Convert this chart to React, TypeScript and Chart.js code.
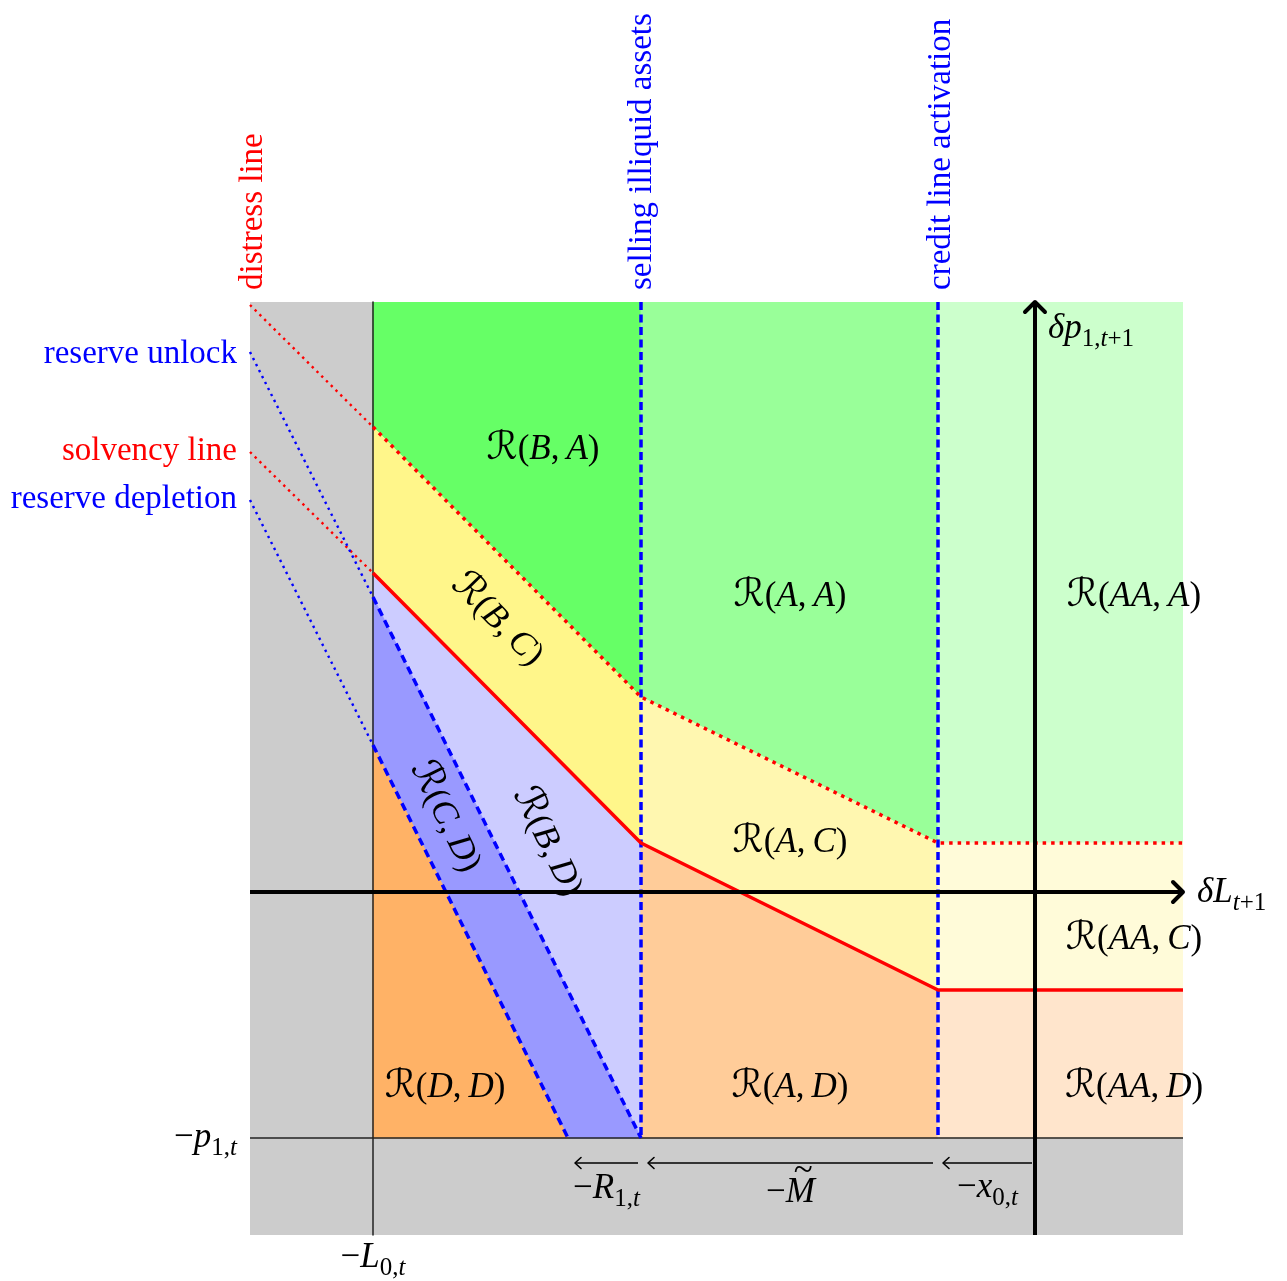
import React, { useEffect, useRef } from "react";
import { Chart, registerables } from "chart.js";

Chart.register(...registerables);

// ---------- data (axis units: δL_{t+1} horizontally, δp_{1,t+1} vertically) ----------
const X_RANGE = [-7.85, 1.48];
const Y_RANGE = [-3.43, 5.9];
// −L0,t | selling illiquid assets | credit line activation | right edge
const boundaryX = [-6.62, -3.94, -0.97, 1.48];
const solvencyY = [3.19, 0.49, -0.98, -0.98];
const distressY = [4.65, 1.95, 0.49, 0.49];
const solvencyLeftY = 4.4; // value at the left border (dotted extension)
const distressLeftY = 5.87;
const unlockX = [-7.85, -6.62, -3.94];
const unlockY = [5.4, 2.95, -2.46];
const depletionX = [-7.85, -6.62, -4.67];
const depletionY = [3.92, 1.47, -2.46];
const floorY = -2.46; // −p1,t
const arrowY = -2.71;
const arrowFrom = [-3.97, -1.02, -0.03];
const arrowTo = [-4.6, -3.87, -0.92];

// region labels
const regionNames: [string, string][] = [
  ["B", "A"], ["A", "A"], ["AA", "A"],
  ["A", "C"], ["AA", "C"],
  ["D", "D"], ["A", "D"], ["AA", "D"],
];
const regionLabelX = [-4.92, -2.45, 0.99, -2.45, 0.99, -5.9, -2.45, 0.99];
const regionLabelY = [4.42, 2.95, 2.95, 0.49, -0.48, -1.96, -1.96, -1.96];
const rotatedNames: [string, string][] = [["B", "C"], ["B", "D"], ["C", "D"]];
const rotatedLabelX = [-5.38, -4.88, -5.9];
const rotatedLabelY = [2.72, 0.5, 0.75];

const COLORS = {
  gray: "#cccccc",
  BA: "#66ff66", AA: "#99ff99", AAA: "#ccffcc",
  BC: "#fff68a", AC: "#fff7b0", AAC: "#fffbd9",
  BD: "#ccccff", CD: "#9999ff", DD: "#ffb266",
  AD: "#ffcc99", AAD: "#ffe5cc",
  red: "#ff0000", blue: "#0000ff", black: "#000000",
};

type Pt = { x: number; y: number };
const P = (x: number, y: number): Pt => ({ x, y });

type Part = { t: string; it?: boolean; sub?: boolean; cal?: boolean; tilde?: boolean; gap?: number };

const FS = 33; // text labels
const MS = 35; // math labels

function fontFor(p: Part, size: number) {
  const s = p.sub ? Math.round(size * 0.7) : size;
  if (p.cal) return `${Math.round(s * 1.12)}px "DejaVu Serif", "DejaVu Sans", serif`;
  return `${p.it ? "italic " : ""}${s}px "Liberation Serif", "DejaVu Serif", serif`;
}

function drawRich(
  ctx: CanvasRenderingContext2D,
  parts: Part[],
  x: number,
  y: number,
  align: "left" | "center" | "right",
  color: string,
  size: number,
  rotate = 0,
  dy = 0
) {
  ctx.save();
  ctx.translate(x, y);
  if (rotate) ctx.rotate(rotate);
  ctx.textBaseline = "alphabetic";
  ctx.textAlign = "left";
  ctx.fillStyle = color;
  const widths = parts.map((p) => {
    if (p.gap !== undefined) return p.gap;
    ctx.font = fontFor(p, size);
    return ctx.measureText(p.t).width;
  });
  const total = widths.reduce((a, b) => a + b, 0);
  let cx = align === "left" ? 0 : align === "center" ? -total / 2 : -total;
  parts.forEach((p, i) => {
    if (p.gap === undefined) {
      ctx.font = fontFor(p, size);
      const sdy = p.sub ? size * 0.22 : 0;
      ctx.fillText(p.t, cx, dy + sdy);
      if (p.tilde) {
        ctx.font = `${size}px "Liberation Serif", "DejaVu Serif", serif`;
        const tw = ctx.measureText("~").width;
        ctx.fillText("~", cx + widths[i] / 2 - tw / 2 + size * 0.08, dy - size * 0.6);
      }
    }
    cx += widths[i];
  });
  ctx.restore();
}

const regionParts = (a: string, b: string): Part[] => [
  { t: "\u211B", cal: true },
  { t: "(" },
  { t: a, it: true },
  { t: "," },
  { gap: MS * 0.2 },
  { t: b, it: true },
  { t: ")" },
];

export default function App() {
  const ref = useRef<HTMLCanvasElement | null>(null);

  useEffect(() => {
    document.body.style.margin = "0";
    const canvas = ref.current;
    if (!canvas) return;
    const [xMin, xMax] = X_RANGE;
    const [yMin, yMax] = Y_RANGE;
    const [xL, xS, xC, xR] = boundaryX;

    const poly = (pts: Pt[], color: string) => ({
      data: [...pts, pts[0]],
      showLine: true,
      fill: "shape",
      backgroundColor: color,
      borderColor: color,
      borderWidth: 1,
      pointRadius: 0,
      tension: 0,
    });
    const line = (pts: Pt[], color: string, width: number, dash: number[] = [], cap = "butt") => ({
      data: pts,
      showLine: true,
      fill: false,
      borderColor: color,
      borderWidth: width,
      borderDash: dash,
      borderCapStyle: cap,
      borderJoinStyle: "round",
      pointRadius: 0,
      tension: 0,
      clip: false,
    });

    const layers: any[] = [
      poly([P(xMin, yMin), P(xL, yMin), P(xL, yMax), P(xMin, yMax)], COLORS.gray),
      poly([P(xMin, yMin), P(xMax, yMin), P(xMax, floorY), P(xMin, floorY)], COLORS.gray),
      poly([P(xL, yMax), P(xS, yMax), P(xS, distressY[1]), P(xL, distressY[0])], COLORS.BA),
      poly([P(xS, yMax), P(xC, yMax), P(xC, distressY[2]), P(xS, distressY[1])], COLORS.AA),
      poly([P(xC, yMax), P(xR, yMax), P(xR, distressY[3]), P(xC, distressY[2])], COLORS.AAA),
      poly([P(xL, distressY[0]), P(xS, distressY[1]), P(xS, solvencyY[1]), P(xL, solvencyY[0])], COLORS.BC),
      poly([P(xS, distressY[1]), P(xC, distressY[2]), P(xC, solvencyY[2]), P(xS, solvencyY[1])], COLORS.AC),
      poly([P(xC, distressY[2]), P(xR, distressY[3]), P(xR, solvencyY[3]), P(xC, solvencyY[2])], COLORS.AAC),
      poly([P(xL, solvencyY[0]), P(xS, solvencyY[1]), P(unlockX[2], unlockY[2]), P(xL, unlockY[1])], COLORS.BD),
      poly([P(xL, unlockY[1]), P(unlockX[2], unlockY[2]), P(depletionX[2], depletionY[2]), P(xL, depletionY[1])], COLORS.CD),
      poly([P(xL, depletionY[1]), P(depletionX[2], depletionY[2]), P(xL, floorY)], COLORS.DD),
      poly([P(xS, solvencyY[1]), P(xC, solvencyY[2]), P(xC, floorY), P(xS, floorY)], COLORS.AD),
      poly([P(xC, solvencyY[2]), P(xR, solvencyY[3]), P(xR, floorY), P(xC, floorY)], COLORS.AAD),
      // thin frame lines
      line([P(xL, yMax), P(xL, yMin)], "#222222", 1.5),
      line([P(xMin, floorY), P(xMax, floorY)], "#222222", 1.5),
      // dotted extensions in the grey strip
      line([P(xMin, distressLeftY), P(xL, distressY[0])], COLORS.red, 2.4, [2.4, 4.3]),
      line([P(xMin, solvencyLeftY), P(xL, solvencyY[0])], COLORS.red, 2.4, [2.4, 4.3]),
      line([P(unlockX[0], unlockY[0]), P(unlockX[1], unlockY[1])], COLORS.blue, 2.4, [2.4, 4.3]),
      line([P(depletionX[0], depletionY[0]), P(depletionX[1], depletionY[1])], COLORS.blue, 2.4, [2.4, 4.3]),
      // reserve lines
      line([P(unlockX[1], unlockY[1]), P(unlockX[2], unlockY[2])], COLORS.blue, 3.5, [8, 5]),
      line([P(depletionX[1], depletionY[1]), P(depletionX[2], depletionY[2])], COLORS.blue, 3.5, [8, 5]),
      // vertical regime boundaries
      line([P(xS, yMax), P(xS, floorY)], COLORS.blue, 3.5, [8, 4.5]),
      line([P(xC, yMax), P(xC, floorY)], COLORS.blue, 3.5, [8, 4.5]),
      // solvency & distress
      line(boundaryX.map((x, i) => P(x, solvencyY[i])), COLORS.red, 3.5),
      line(boundaryX.map((x, i) => P(x, distressY[i])), COLORS.red, 3.5, [3.5, 5]),
      // axes
      line([P(xMin, 0), P(xMax, 0)], COLORS.black, 4),
      line([P(xMax - 0.1, 0.1), P(xMax, 0), P(xMax - 0.1, -0.1)], COLORS.black, 4, [], "round"),
      line([P(0, yMin), P(0, yMax)], COLORS.black, 4),
      line([P(-0.1, yMax - 0.1), P(0, yMax), P(0.1, yMax - 0.1)], COLORS.black, 4, [], "round"),
    ];
    arrowFrom.forEach((xf, i) => {
      const xt = arrowTo[i];
      layers.push(line([P(xf, arrowY), P(xt, arrowY)], COLORS.black, 1.6));
      layers.push(line([P(xt + 0.06, arrowY + 0.055), P(xt, arrowY), P(xt + 0.06, arrowY - 0.055)], COLORS.black, 1.6, [], "round"));
    });
    const N = layers.length;
    layers.forEach((d, i) => (d.order = N - i));

    const labelPlugin = {
      id: "labels",
      afterDatasetsDraw(chart: any) {
        const { ctx } = chart;
        const sx = chart.scales.x;
        const sy = chart.scales.y;
        const px = (v: number) => sx.getPixelForValue(v);
        const py = (v: number) => sy.getPixelForValue(v);
        const base = MS * 0.26;

        // upright region labels
        regionNames.forEach(([a, b], i) => {
          drawRich(ctx, regionParts(a, b), px(regionLabelX[i]), py(regionLabelY[i]), "center", COLORS.black, MS, 0, base);
        });
        // rotated region labels, aligned with the lines
        const angSolv = Math.atan2(py(solvencyY[1]) - py(solvencyY[0]), px(xS) - px(xL));
        const angUnl = Math.atan2(py(unlockY[2]) - py(unlockY[1]), px(unlockX[2]) - px(unlockX[1]));
        const angles = [angSolv, angUnl, angUnl];
        rotatedNames.forEach(([a, b], i) => {
          drawRich(ctx, regionParts(a, b), px(rotatedLabelX[i]), py(rotatedLabelY[i]), "center", COLORS.black, MS, angles[i], base);
        });

        // side labels for the line extensions
        drawRich(ctx, [{ t: "reserve unlock" }], px(xMin) - 13, py(unlockY[0]) + 11, "right", COLORS.blue, FS);
        drawRich(ctx, [{ t: "solvency line" }], px(xMin) - 13, py(solvencyLeftY) + 8, "right", COLORS.red, FS);
        drawRich(ctx, [{ t: "reserve depletion" }], px(xMin) - 13, py(depletionY[0]) + 8, "right", COLORS.blue, FS);

        // vertical labels above the plot
        const up = -Math.PI / 2;
        drawRich(ctx, [{ t: "distress line" }], px(xMin) + 12, py(yMax) - 12, "left", COLORS.red, FS, up);
        drawRich(ctx, [{ t: "selling illiquid assets" }], px(xS) + 10, py(yMax) - 12, "left", COLORS.blue, FS, up);
        drawRich(ctx, [{ t: "credit line activation" }], px(xC) + 12, py(yMax) - 12, "left", COLORS.blue, FS, up);

        // axis labels
        drawRich(ctx, [{ t: "\u03B4", it: true }, { t: "L", it: true }, { t: "t", it: true, sub: true }, { t: "+1", sub: true }],
          px(xMax) + 14, py(0) + 10, "left", COLORS.black, MS);
        drawRich(ctx, [{ t: "\u03B4", it: true }, { t: "p", it: true }, { t: "1,", sub: true }, { t: "t", it: true, sub: true }, { t: "+1", sub: true }],
          px(0) + 13, py(yMax) + 36, "left", COLORS.black, MS);
        drawRich(ctx, [{ t: "\u2212" }, { t: "p", it: true }, { t: "1,", sub: true }, { t: "t", it: true, sub: true }],
          px(xMin) - 13, py(floorY) + 9, "right", COLORS.black, MS);
        drawRich(ctx, [{ t: "\u2212" }, { t: "L", it: true }, { t: "0,", sub: true }, { t: "t", it: true, sub: true }],
          px(xL), py(yMin) + 32, "center", COLORS.black, MS);

        // arrow labels
        const mid = (i: number) => px((arrowFrom[i] + arrowTo[i]) / 2);
        drawRich(ctx, [{ t: "\u2212" }, { t: "R", it: true }, { t: "1,", sub: true }, { t: "t", it: true, sub: true }],
          mid(0), py(arrowY) + 35, "center", COLORS.black, MS);
        drawRich(ctx, [{ t: "\u2212" }, { t: "M", it: true, tilde: true }],
          mid(1), py(arrowY) + 39, "center", COLORS.black, MS);
        drawRich(ctx, [{ t: "\u2212" }, { t: "x", it: true }, { t: "0,", sub: true }, { t: "t", it: true, sub: true }],
          mid(2), py(arrowY) + 34, "center", COLORS.black, MS);
      },
    };

    const chart = new Chart(canvas, {
      type: "scatter",
      data: { datasets: layers },
      options: {
        animation: false,
        responsive: false,
        maintainAspectRatio: false,
        events: [],
        layout: { padding: { left: 250, right: 104, top: 302, bottom: 46 } },
        scales: {
          x: { type: "linear", min: xMin, max: xMax, display: false },
          y: { type: "linear", min: yMin, max: yMax, display: false },
        },
        plugins: {
          legend: { display: false },
          tooltip: { enabled: false },
        },
      },
      plugins: [labelPlugin],
    } as any);
    return () => chart.destroy();
  }, []);

  return (
    <div style={{ width: 1287, height: 1281, background: "#ffffff" }}>
      <canvas ref={ref} width={1287} height={1281} style={{ display: "block", width: 1287, height: 1281 }} />
    </div>
  );
}
